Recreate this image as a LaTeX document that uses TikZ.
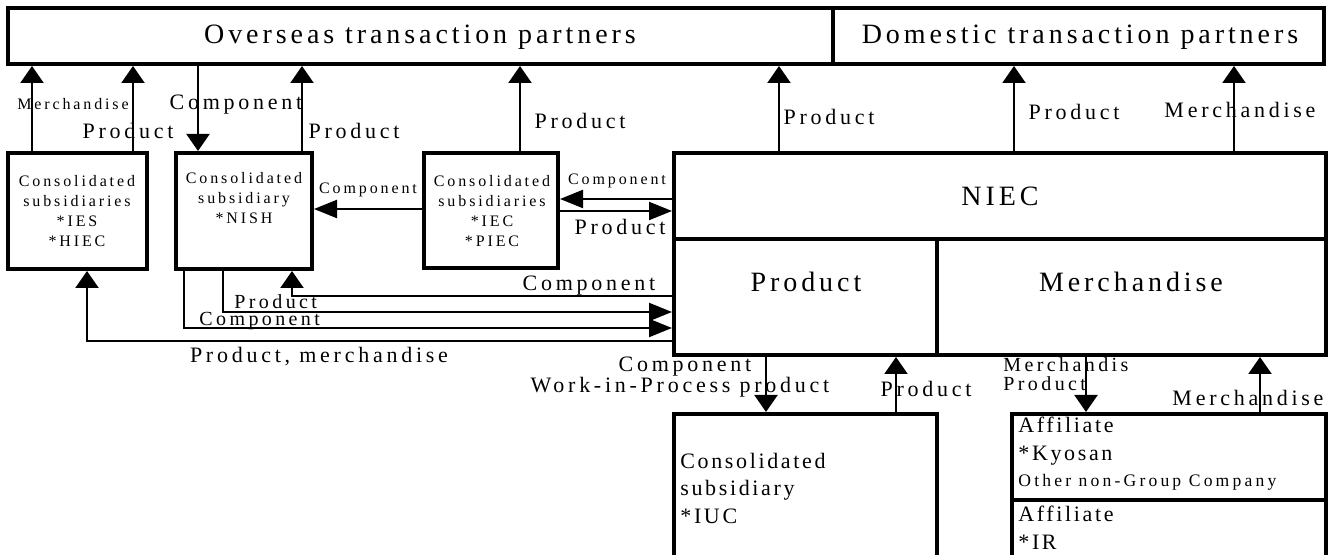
\documentclass[tikz,border=0pt]{standalone}
\usepackage{fontspec}
\setmainfont{Liberation Serif}
\newfontfamily\bigsp[LetterSpace=14]{Liberation Serif}
\newfontfamily\midsp[LetterSpace=17]{Liberation Serif}
\newfontfamily\boxsp[LetterSpace=12]{Liberation Serif}
\newfontfamily\smlsp[LetterSpace=18]{Liberation Serif}
\usetikzlibrary{arrows.meta,fit}

\tikzset{
  caixa/.style={draw=black, line width=2pt, inner sep=0pt},
  seta/.style={line width=1.1pt, -{Triangle[width=11.5pt,length=8.5pt]}},
  setah/.style={line width=1.1pt, -{Triangle[width=9pt,length=11.5pt]}},
  fbig/.style={font=\bigsp\fontsize{14}{16}\selectfont, inner sep=0pt},
  fmid/.style={font=\midsp\fontsize{11}{13.75}\selectfont, inner sep=0pt},
  fbox/.style={font=\boxsp\fontsize{11}{13.75}\selectfont, inner sep=0pt, align=left, anchor=west},
  fsml/.style={font=\smlsp\fontsize{8}{10}\selectfont, inner sep=0pt, align=center},
}

\begin{document}
\begin{tikzpicture}[x=0.5pt,y=-0.5pt]
        \useasboundingbox (0,0) rectangle (1330,555);

        %caixas
        \node[caixa, fit={(8,8) (833,64)}] (ovs) {};
        \node[caixa, fit={(833,8) (1324,64)}] (dom) {};
        \node[caixa, fit={(8,153) (147,269)}] (ies) {};
        \node[caixa, fit={(176,153) (312,269)}] (nish) {};
        \node[caixa, fit={(424,153) (558,268)}] (iec) {};
        \node[caixa, fit={(674,153) (1326,239)}] (niec) {};
        \node[caixa, fit={(674,239) (937,355)}] (prod) {};
        \node[caixa, fit={(937,239) (1326,355)}] (merch) {};
        \node[caixa, fit={(674,414) (937,600)}] (iuc) {};
        \node[caixa, fit={(1012,414) (1326,500)}] (kyo) {};
        \node[caixa, fit={(1012,500) (1326,600)}] (ir) {};

        %textos das caixas
        \node[fbig] (tovs) at (420,37) {Overseas transaction partners};
        \node[fbig] (tdom) at (1080,37) {Domestic transaction partners};
        \node[fsml] (ties) at (77,211) {Consolidated\\subsidiaries\\*IES\\*HIEC};
        \node[fsml] (tnish) at (244,198) {Consolidated\\subsidiary\\*NISH};
        \node[fsml] (tiec) at (492,211) {Consolidated\\subsidiaries\\*IEC\\*PIEC};
        \node[fbig] (tniec) at (1000,196) {NIEC};
        \node[fbig] (tprod) at (806,282) {Product};
        \node[fbig] (tmerch) at (1131,282) {Merchandise};
        \node[fbox] (tiuc) at (680,488) {Consolidated\\subsidiary\\*IUC};
        \node[fbox] (tkyo) at (1018,441) {Affiliate\\*Kyosan};
        \node[fbox, font=\smlsp\fontsize{8.8}{10}\selectfont] (tother) at (1018,482) {Other non-Group Company};
        \node[fbox] (tir) at (1018,528) {Affiliate\\*IR};

        %posicoes das setas
        \coordinate (xa) at (32,0);
        \coordinate (xb) at (133,0);
        \coordinate (xc) at (198,0);
        \coordinate (xd) at (302,0);
        \coordinate (xe) at (520,0);
        \coordinate (xf) at (779,0);
        \coordinate (xg) at (1014,0);
        \coordinate (xh) at (1234,0);
        \coordinate (xi) at (766,0);
        \coordinate (xj) at (896,0);
        \coordinate (xk) at (1086,0);
        \coordinate (xl) at (1260,0);
        \coordinate (xm) at (292,0);
        \coordinate (xn) at (223,0);
        \coordinate (xo) at (184,0);
        \coordinate (xp) at (87,0);
        \coordinate (ya) at (0,199);
        \coordinate (yb) at (0,211);
        \coordinate (yc) at (0,209);
        \coordinate (yd) at (0,296);
        \coordinate (ye) at (0,312);
        \coordinate (yf) at (0,328);
        \coordinate (yg) at (0,341);

        %setas
        \draw[seta] (ies.north -| xa) -- (ovs.south -| xa);
        \draw[seta] (ies.north -| xb) -- (ovs.south -| xb);
        \draw[seta] (ovs.south -| xc) -- (nish.north -| xc);
        \draw[seta] (nish.north -| xd) -- (ovs.south -| xd);
        \draw[seta] (iec.north -| xe) -- (ovs.south -| xe);
        \draw[seta] (niec.north -| xf) -- (ovs.south -| xf);
        \draw[seta] (niec.north -| xg) -- (dom.south -| xg);
        \draw[seta] (niec.north -| xh) -- (dom.south -| xh);
        \draw[setah] (iec.west |- yc) -- (nish.east |- yc);
        \draw[setah] (niec.west |- ya) -- (iec.east |- ya);
        \draw[setah] (iec.east |- yb) -- (niec.west |- yb);
        \draw[seta] (prod.west |- yd) -| (nish.south -| xm);
        \draw[setah] (nish.south -| xn) |- (prod.west |- ye);
        \draw[setah] (nish.south -| xo) |- (prod.west |- yf);
        \draw[seta] (prod.west |- yg) -| (ies.south -| xp);
        \draw[seta] (prod.south -| xi) -- (iuc.north -| xi);
        \draw[seta] (iuc.north -| xj) -- (prod.south -| xj);
        \draw[seta] (merch.south -| xk) -- (kyo.north -| xk);
        \draw[seta] (kyo.north -| xl) -- (merch.south -| xl);

        %rotulos
        \node[fsml] (l1) at (73,104) {Merchandise};
        \node[fmid] (l2) at (128,131) {Product};
        \node[fmid] (l3) at (236,105) {Component};
        \node[fmid] (l4) at (354,131) {Product};
        \node[fmid] (l5) at (580,121) {Product};
        \node[fmid] (l6) at (829,117) {Product};
        \node[fmid] (l7) at (1074,112) {Product};
        \node[fmid] (l8) at (1240,110) {Merchandise};
        \node[fsml] (l9) at (368,190) {Component};
        \node[fsml] (l10) at (617,181) {Component};
        \node[fmid] (l11) at (620,227) {Product};
        \node[fmid] (l12) at (589,286) {Component};
        \node[fmid, align=left, anchor=west, font=\midsp\fontsize{10}{8.5}\selectfont] (l13) at (199,312) {\hspace*{17.5pt}Product\\Component};
        \node[fmid] (l15) at (319,357) {Product, merchandise};
        \node[fmid] (l16) at (685,367) {Component};
        \node[fmid] (l17) at (680,387) {Work-in-Process product};
        \node[fmid] (l18) at (926,389) {Product};
        \node[fmid, align=left, anchor=west, font=\midsp\fontsize{10}{9.5}\selectfont] (l19) at (1003,374) {Merchandis\\Product};
        \node[fmid] (l21) at (1248,398) {Merchandise};

\end{tikzpicture}
\end{document}
